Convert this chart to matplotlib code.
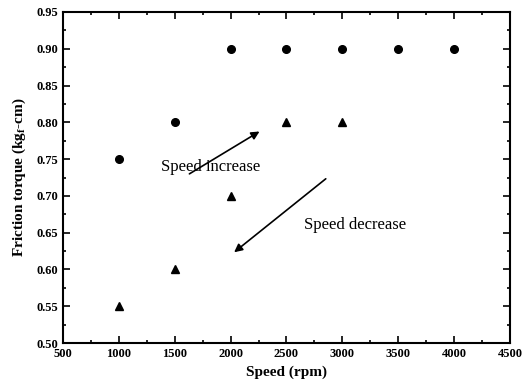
import numpy as np
import matplotlib
matplotlib.use('Agg')
import matplotlib.pyplot as plt
from matplotlib.ticker import MultipleLocator

plt.rcParams['font.family'] = 'Liberation Serif'
plt.rcParams['mathtext.fontset'] = 'custom'
plt.rcParams['mathtext.rm'] = 'Liberation Serif:bold'
plt.rcParams['mathtext.it'] = 'Liberation Serif:bold'
plt.rcParams['mathtext.bf'] = 'Liberation Serif:bold'

# data
speed_up = [1000, 1500, 2000, 2500, 3000, 3500, 4000]
torque_up = [0.75, 0.80, 0.90, 0.90, 0.90, 0.90, 0.90]
speed_down = [1000, 1500, 2000, 2500, 3000]
torque_down = [0.55, 0.60, 0.70, 0.80, 0.80]

fig = plt.figure(figsize=(5.32, 3.83), dpi=100)
ax = fig.add_axes([0.1184, 0.1044, 0.8402, 0.8643])

ax.plot(speed_up, torque_up, 'o', color='black', markersize=5.5)
ax.plot(speed_down, torque_down, '^', color='black', markersize=5.5)

# arrows and labels
ax.annotate('', xy=(2280, 0.7895), xytext=(1610, 0.728),
            arrowprops=dict(arrowstyle='-|>', color='black', lw=1.2, mutation_scale=12))
ax.annotate('', xy=(2012, 0.621), xytext=(2871, 0.7256),
            arrowprops=dict(arrowstyle='-|>', color='black', lw=1.2, mutation_scale=12))
ax.text(1824, 0.739, 'Speed increase', ha='center', va='center', fontsize=12)
ax.text(3113, 0.660, 'Speed decrease', ha='center', va='center', fontsize=12)

ax.set_xlim(500, 4500)
ax.set_ylim(0.50, 0.95)
ax.xaxis.set_major_locator(MultipleLocator(500))
ax.xaxis.set_minor_locator(MultipleLocator(250))
ax.yaxis.set_major_locator(MultipleLocator(0.05))
ax.yaxis.set_minor_locator(MultipleLocator(0.025))
ax.set_yticklabels(['%.2f' % v for v in ax.get_yticks()])
ax.tick_params(which='both', direction='in', top=True, right=True, labelsize=9, width=1.2)
ax.tick_params(which='major', length=5)
ax.tick_params(which='minor', length=2.5)
for lbl in ax.get_xticklabels() + ax.get_yticklabels():
    lbl.set_fontweight('bold')
for s in ax.spines.values():
    s.set_linewidth(1.5)

ax.set_xlabel('Speed (rpm)', fontsize=11, fontweight='bold', labelpad=4)
ax.set_ylabel(r'Friction torque (kg$_{f}$-cm)', fontsize=11, fontweight='bold', labelpad=6)

fig.savefig('out.png', dpi=100)
